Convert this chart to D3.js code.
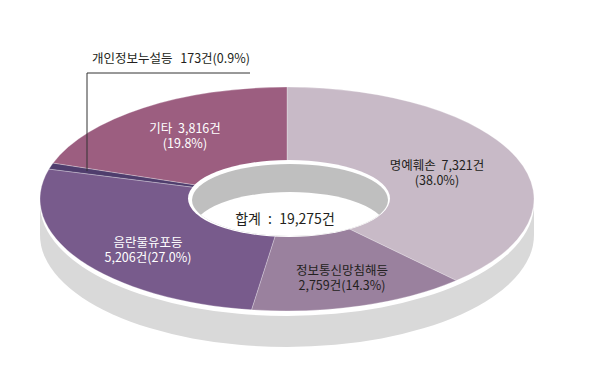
<!DOCTYPE html>
<html><head><meta charset="utf-8">
<script src="https://cdn.jsdelivr.net/npm/d3@7"></script>
<style>
html,body{margin:0;padding:0;background:#fff;}
svg{display:block;font-family:"Noto Sans CJK KR","Noto Sans",sans-serif;}
</style></head>
<body>
<svg id="chart" width="590" height="369"></svg>
<script>
const categories = ["명예훼손", "정보통신망침해등", "음란물유포등", "개인정보누설등", "기타"];
const values = [7321, 2759, 5206, 173, 3816];
const percents = ["38.0%", "14.3%", "27.0%", "0.9%", "19.8%"];
const countLabels = ["7,321건", "2,759건", "5,206건", "173건", "3,816건"];
const colors = ["#c8bac7", "#9a819e", "#785b8c", "#4f3d6d", "#9c5e80"];
const totalLabel = "합계 : 19,275건";

(function () {
const svg = d3.select("#chart");
const cx = 287, cy = 199, rx = 247, ry = 112, depth = 36;
const R = 100;
const sx = rx / R, sy = ry / R;

// side (depth)
svg.append("ellipse").attr("cx", cx).attr("cy", cy + depth).attr("rx", rx).attr("ry", ry).attr("fill", "#d9d9d9");
svg.append("rect").attr("x", cx - rx).attr("y", cy).attr("width", 2 * rx).attr("height", depth).attr("fill", "#d9d9d9");
svg.append("ellipse").attr("cx", cx).attr("cy", cy + 5).attr("rx", rx).attr("ry", ry).attr("fill", "#ffffff");

// top surface slices
const pie = d3.pie().sort(null).value(d => d)(values);
const arc = d3.arc().innerRadius(0).outerRadius(R);
const surface = svg.append("g").attr("transform", `translate(${cx},${cy}) scale(${sx},${sy})`);
surface.selectAll("path").data(pie).join("path")
  .attr("d", arc)
  .attr("fill", (d, i) => colors[i])
  .attr("stroke", "rgba(255,255,255,0.35)")
  .attr("stroke-width", 0.8)
  .attr("vector-effect", "non-scaling-stroke");

// hole
const hx = 289, hy = 198.5, hrx = 101, hry = 38.5;
svg.append("ellipse").attr("cx", hx).attr("cy", hy).attr("rx", hrx).attr("ry", hry).attr("fill", "#ffffff");
const defs = svg.append("defs");
defs.append("clipPath").attr("id", "holeClip")
  .append("ellipse").attr("cx", hx + 1).attr("cy", hy + 1.5).attr("rx", hrx - 3).attr("ry", hry - 2.5);
svg.append("ellipse").attr("cx", hx + 1).attr("cy", hy + 1.5).attr("rx", hrx - 3).attr("ry", hry - 2.5).attr("fill", "#bfbfbf");
svg.append("ellipse").attr("clip-path", "url(#holeClip)")
  .attr("cx", hx + 1).attr("cy", hy + 31).attr("rx", hrx - 4).attr("ry", hry - 1).attr("fill", "#ffffff");

// labels
const labelPos = [
  {x: 437, y: 165, fill: "#231f20", lines: [categories[0] + " " + countLabels[0], "(" + percents[0] + ")"]},
  {x: 342, y: 270, fill: "#231f20", lines: [categories[1], countLabels[1] + "(" + percents[1] + ")"]},
  {x: 148, y: 242, fill: "#ffffff", lines: [categories[2], countLabels[2] + "(" + percents[2] + ")"]},
  {x: 185, y: 128, fill: "#ffffff", lines: [categories[4] + " " + countLabels[4], "(" + percents[4] + ")"]}
];
labelPos.forEach(l => {
  const t = svg.append("text").attr("text-anchor", "middle").attr("fill", l.fill)
    .attr("font-size", 12.5).attr("word-spacing", 3);
  l.lines.forEach((s, k) => {
    t.append("tspan").attr("x", l.x).attr("y", l.y + 4.5 + k * 15).text(s);
  });
});

// small slice callout
const small = pie[3];
const mid = (small.startAngle + small.endAngle) / 2;
const lineX = 87;
const f = (cx - lineX) / (-rx * Math.sin(mid));
const anchorY = cy - ry * Math.cos(mid) * f;
svg.append("path")
  .attr("d", `M${lineX},${anchorY}V73H250`)
  .attr("fill", "none").attr("stroke", "#333").attr("stroke-width", 1);
svg.append("text").attr("x", 92).attr("y", 63).attr("fill", "#231f20")
  .attr("font-size", 12.5).attr("word-spacing", 5)
  .text(categories[3] + " " + countLabels[3] + "(" + percents[3] + ")");

// total
svg.append("text").attr("x", 285).attr("y", 223.5).attr("text-anchor", "middle")
  .attr("fill", "#231f20").attr("font-size", 14).attr("word-spacing", 4)
  .text(totalLabel);
})();
</script>
</body></html>
